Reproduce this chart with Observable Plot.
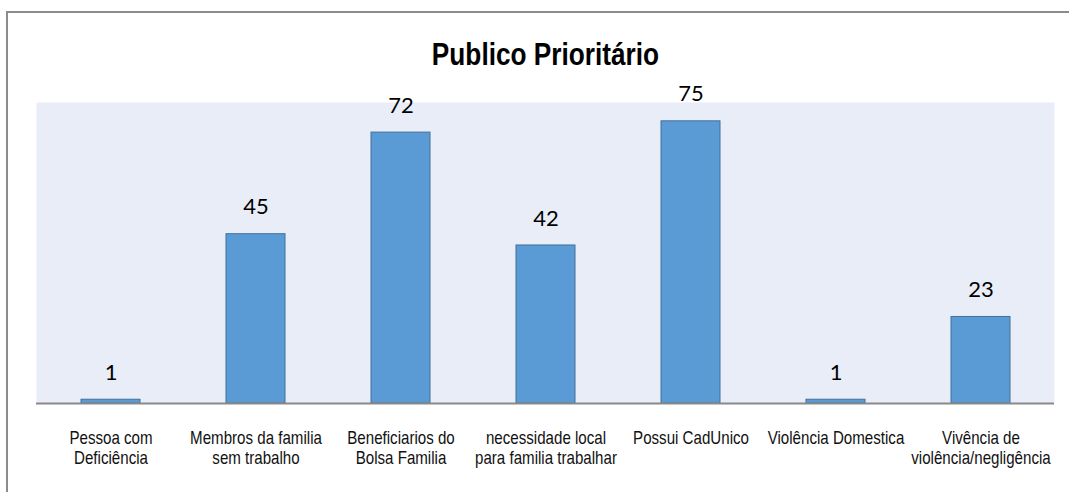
<!DOCTYPE html>
<html>
<head>
<meta charset="utf-8">
<script src="https://cdn.jsdelivr.net/npm/d3@7"></script>
<script src="https://cdn.jsdelivr.net/npm/@observablehq/plot@0.6"></script>
<style>
  html, body { margin: 0; padding: 0; background: #fff; }
  #wrap { position: relative; width: 1069px; height: 492px; overflow: hidden; }
  #border { position: absolute; left: 6px; top: 11px; width: 1100px; height: 600px;
            border-left: 2px solid #8c8c8c; border-top: 2px solid #8c8c8c; box-sizing: border-box; }
  #chart { position: absolute; left: 0; top: 0; }
</style>
</head>
<body>
<div id="wrap"><div id="border"></div><div id="chart"></div></div>
<script>
const title = "Publico Prioritário";
const categories = [
  "Pessoa com\nDeficiência",
  "Membros da familia\nsem trabalho",
  "Beneficiarios do\nBolsa Familia",
  "necessidade local\npara familia trabalhar",
  "Possui CadUnico",
  "Violência Domestica",
  "Vivência de\nviolência/negligência"
];
const values = [1, 45, 72, 42, 75, 1, 23];

const data = categories.map((c, i) => ({category: c, value: values[i]}));

const sans = "'Liberation Sans', Arial, sans-serif";

const chart = Plot.plot({
  width: 1069,
  height: 492,
  marginLeft: 36,
  marginRight: 15,
  marginTop: 102,
  marginBottom: 89,
  style: {background: "transparent", fontFamily: sans},
  x: {domain: categories, paddingInner: 0.594, paddingOuter: 0.297, label: null},
  y: {domain: [0, 80], axis: null},
  marks: [
    Plot.frame({fill: "#E9EDF7", stroke: null}),
    Plot.barY(data, {x: "category", y: "value", fill: "#5B9BD5", stroke: "#41719C", strokeWidth: 1}),
    Plot.ruleY([0], {stroke: "#898989", strokeWidth: 2}),
    Plot.text(data, {x: "category", y: "value", text: d => String(d.value), dy: -27,
      fontSize: 22, fontFamily: "Lato, Carlito, sans-serif", fill: "#000"}),
    Plot.axisX({tickSize: 0, tickPadding: 27, fontSize: 18, lineHeight: 1.08, fill: "#111",
      fontFamily: sans, label: null}),
    Plot.text([title], {frameAnchor: "top", dy: -60, fontSize: 31, fontWeight: "bold",
      fontFamily: sans, fill: "#000"})
  ]
});

// horizontally condense text to mimic the narrow typeface of the original
function condenseNodes(nodes, k) {
  nodes.forEach(node => {
    const t = d3.select(node);
    const tr = t.attr("transform");
    if (tr) {
      t.attr("transform", tr + ` scale(${k},1)`);
    } else {
      const x = +t.attr("x") || 0, y = +t.attr("y") || 0;
      t.attr("x", null).attr("y", null);
      t.attr("transform", `translate(${x},${y}) scale(${k},1)`);
    }
  });
}
const allText = Array.from(chart.querySelectorAll("text"));
condenseNodes(Array.from(chart.querySelectorAll("g[aria-label='x-axis tick label'] text")), 0.84);
condenseNodes(allText.filter(n => n.textContent === title), 0.846);

document.getElementById("chart").appendChild(chart);
</script>
</body>
</html>
